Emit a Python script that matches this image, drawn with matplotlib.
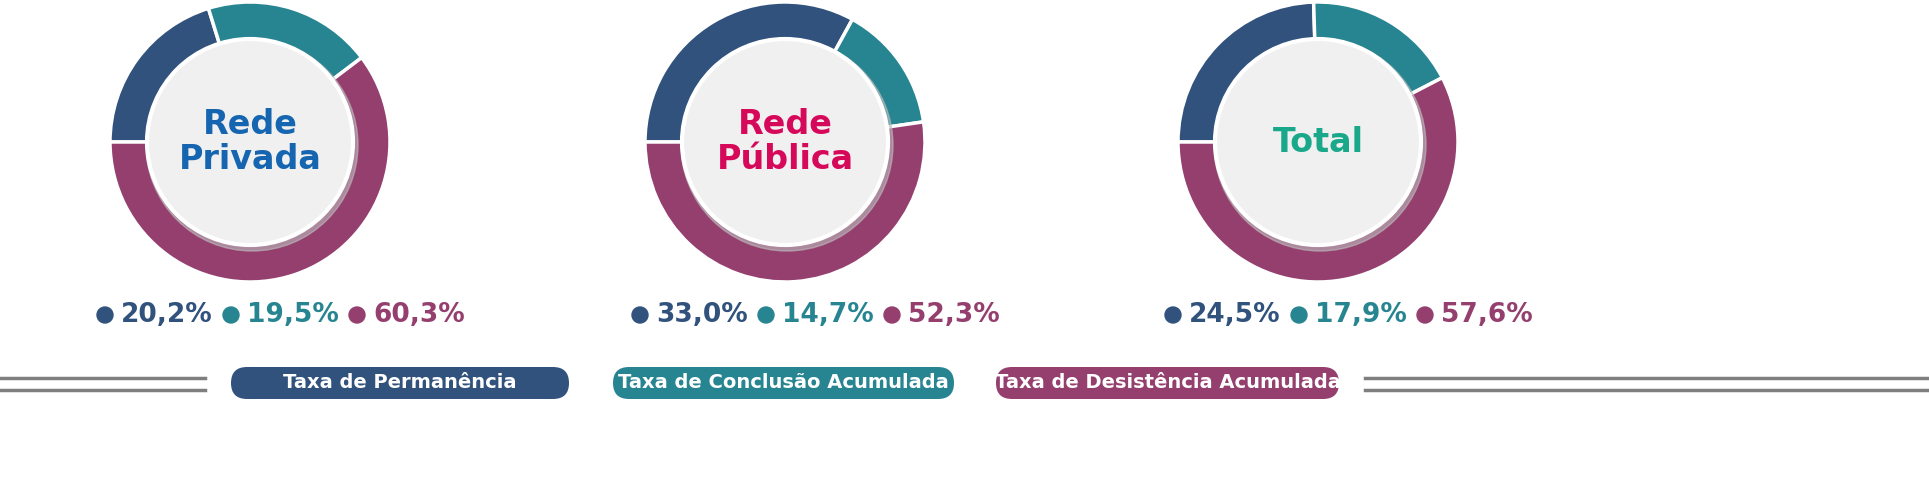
import matplotlib.pyplot as plt
from matplotlib.patches import Circle, FancyBboxPatch

titles = ['Rede\nPrivada', 'Rede\nPública', 'Total']
title_colors = ['#1565b0', '#d6085a', '#1aa88a']
permanencia = [20.2, 33.0, 24.5]
conclusao = [19.5, 14.7, 17.9]
desistencia = [60.3, 52.3, 57.6]
series_names = ['Taxa de Permanência', 'Taxa de Conclusão Acumulada', 'Taxa de Desistência Acumulada']
colors = ['#30527c', '#278591', '#943f6e']

W, H = 1929, 493
fig = plt.figure(figsize=(W / 100, H / 100), dpi=100)
ax = fig.add_axes([0, 0, 1, 1])
ax.axis('off')

centers = [250, 785, 1318]
cy = H - 142
for i, cx in enumerate(centers):
    vals = [permanencia[i], conclusao[i], desistencia[i]]
    ax.pie(vals, colors=colors, startangle=180, counterclock=False,
           center=(cx, cy), radius=140, frame=True,
           wedgeprops=dict(edgecolor='white', linewidth=2.5))
    # shadow and centre disc
    ax.add_patch(Circle((cx + 2, cy - 3), 106, color='#bdbdbd', alpha=0.6, zorder=3))
    ax.add_patch(Circle((cx, cy), 103, facecolor='#f0f0f0', edgecolor='white', lw=3, zorder=4))
    ax.text(cx, cy, titles[i], ha='center', va='center', fontsize=24,
            fontweight='bold', color=title_colors[i], linespacing=1.05, zorder=5)
    # legend values
    for j, v in enumerate(vals):
        lx = cx - 145 + j * 126
        ly = H - 315
        ax.add_patch(Circle((lx, ly), 8, color=colors[j], zorder=5))
        ax.text(lx + 16, ly, f'{v:.1f}%'.replace('.', ','), ha='left', va='center',
                fontsize=19, fontweight='semibold', color=colors[j], zorder=5)

# bottom pills
pills = [(215, 585), (597, 970), (980, 1355)]
for (x0, x1), name, c in zip(pills, series_names, colors):
    ax.add_patch(FancyBboxPatch((x0 + 16, H - 399), x1 - x0 - 32, 32,
                                boxstyle='round,pad=0,rounding_size=16', facecolor=c,
                                edgecolor='none'))
    ax.text((x0 + x1) / 2, H - 383, name, ha='center', va='center',
            fontsize=14, fontweight='semibold', color='white')

for y in (378, 390):
    ax.plot([0, 205], [H - y, H - y], color='#7f7f7f', lw=2.5)
    ax.plot([1365, W], [H - y, H - y], color='#7f7f7f', lw=2.5)

ax.set_aspect('auto')
ax.set_xlim(0, W)
ax.set_ylim(0, H)

fig.savefig('out.png', dpi=100, facecolor='white')
